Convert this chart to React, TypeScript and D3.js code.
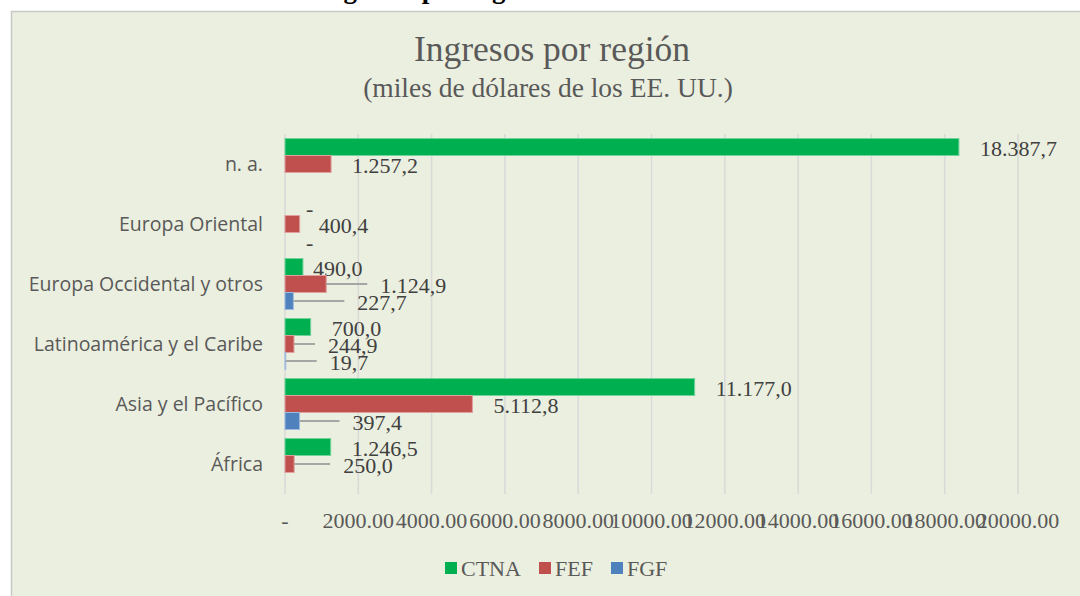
import React from "react";
import * as d3 from "d3";

const categories = [
  "n. a.",
  "Europa Oriental",
  "Europa Occidental y otros",
  "Latinoamérica y el Caribe",
  "Asia y el Pacífico",
  "África",
];
const seriesNames = ["CTNA", "FEF", "FGF"];
const ctna: (number | null)[] = [18387.7, 0, 490.0, 700.0, 11177.0, 1246.5];
const fef: (number | null)[] = [1257.2, 400.4, 1124.9, 244.9, 5112.8, 250.0];
const fgf: (number | null)[] = [null, 0, 227.7, 19.7, 397.4, null];
const xTicks = [0, 2000, 4000, 6000, 8000, 10000, 12000, 14000, 16000, 18000, 20000];
const colors = ["#00B050", "#C0504D", "#4F81BD"];
const edgeColors = ["#6fd39a", "#e0a09e", "#9dbbe0"];

// label nudges (extra horizontal offset of data labels, px) per series per category
const labelNudge = [
  [0, 0, -11, 0, 0, 0],
  [0, -2, 33, 13, 0, 28],
  [0, 0, 43, 23, 32, 0],
];

const W = 1080;
const H = 596;
const serif = "'Liberation Serif', 'Times New Roman', serif";
const sans = "'Open Sans', 'Noto Sans', sans-serif";

function fmtVal(v: number) {
  if (v === 0) return "-";
  const s = d3.format(",.1f")(v);
  return s.replace(/,/g, "#").replace(".", ",").replace(/#/g, ".");
}

export default function App() {
  const x = d3.scaleLinear().domain([0, 20000]).range([285, 1018]);
  const y = d3.scaleBand<string>().domain(categories).range([134, 494]).paddingInner(0).paddingOuter(0);
  const inner = d3.scaleBand<string>().domain(seriesNames).range([4.5, y.bandwidth() - 4.5]);
  const values = [ctna, fef, fgf];

  return (
    <svg
      width={W}
      height={H}
      style={{ position: "absolute", left: 0, top: 0, background: "#fff" }}
    >
      <text x={318} y={-2} fontFamily={serif} fontWeight="bold" fontSize={27} fill="#000">
        Ingresos por región
      </text>
      <rect x={11.5} y={11.5} width={1100} height={620} fill="#EBEFDF" stroke="#C8C8C8" strokeWidth={1.5} />
      <text x={552} y={61} textAnchor="middle" fontFamily={serif} fontSize={35.5} fill="#595959">
        Ingresos por región
      </text>
      <text x={548} y={97} textAnchor="middle" fontFamily={serif} fontSize={27.5} fill="#595959">
        (miles de dólares de los EE. UU.)
      </text>

      {xTicks.map((t) => (
        <line key={"g" + t} x1={x(t)} x2={x(t)} y1={134} y2={494} stroke="#D9D9D9" strokeWidth={1.5} />
      ))}
      {xTicks.map((t) => (
        <text
          key={"t" + t}
          x={x(t)}
          y={528}
          textAnchor="middle"
          fontFamily={serif}
          fontSize={22}
          fill="#595959"
        >
          {t === 0 ? "-" : d3.format(".2f")(t)}
        </text>
      ))}

      {categories.map((c) => (
        <text
          key={"c" + c}
          x={263}
          y={(y(c) as number) + y.bandwidth() / 2}
          dy="0.35em"
          textAnchor="end"
          fontFamily={sans}
          fontSize={19.5}
          fill="#595959"
        >
          {c}
        </text>
      ))}

      {values.map((arr, si) =>
        arr.map((v, ci) => {
          if (v === null) return null;
          const c = categories[ci];
          const by = (y(c) as number) + (inner(seriesNames[si]) as number);
          const bh = inner.bandwidth();
          const xe = x(v);
          const nudge = labelNudge[si][ci];
          const lx = xe + 21 + nudge;
          const cy = by + bh / 2;
          return (
            <g key={si + "-" + ci}>
              {v > 0 && (
                <rect
                  x={x(0)}
                  y={by}
                  width={xe - x(0)}
                  height={bh}
                  fill={colors[si]}
                  stroke={edgeColors[si]}
                  strokeWidth={1}
                />
              )}
              {nudge >= 12 && (
                <line x1={xe} x2={lx - 13} y1={cy} y2={cy} stroke="#A6A6A6" strokeWidth={2} />
              )}
              <text
                x={lx}
                y={cy + 1}
                dy="0.35em"
                fontFamily={serif}
                fontSize={22}
                fill="#404040"
              >
                {fmtVal(v)}
              </text>
            </g>
          );
        })
      )}

      {seriesNames.map((s, i) => {
        const lx = [445, 539, 611][i];
        return (
          <g key={"l" + s}>
            <rect x={lx} y={562} width={12} height={12} fill={colors[i]} />
            <text x={lx + 16} y={576} fontFamily={serif} fontSize={22} fill="#595959">
              {s}
            </text>
          </g>
        );
      })}
    </svg>
  );
}
